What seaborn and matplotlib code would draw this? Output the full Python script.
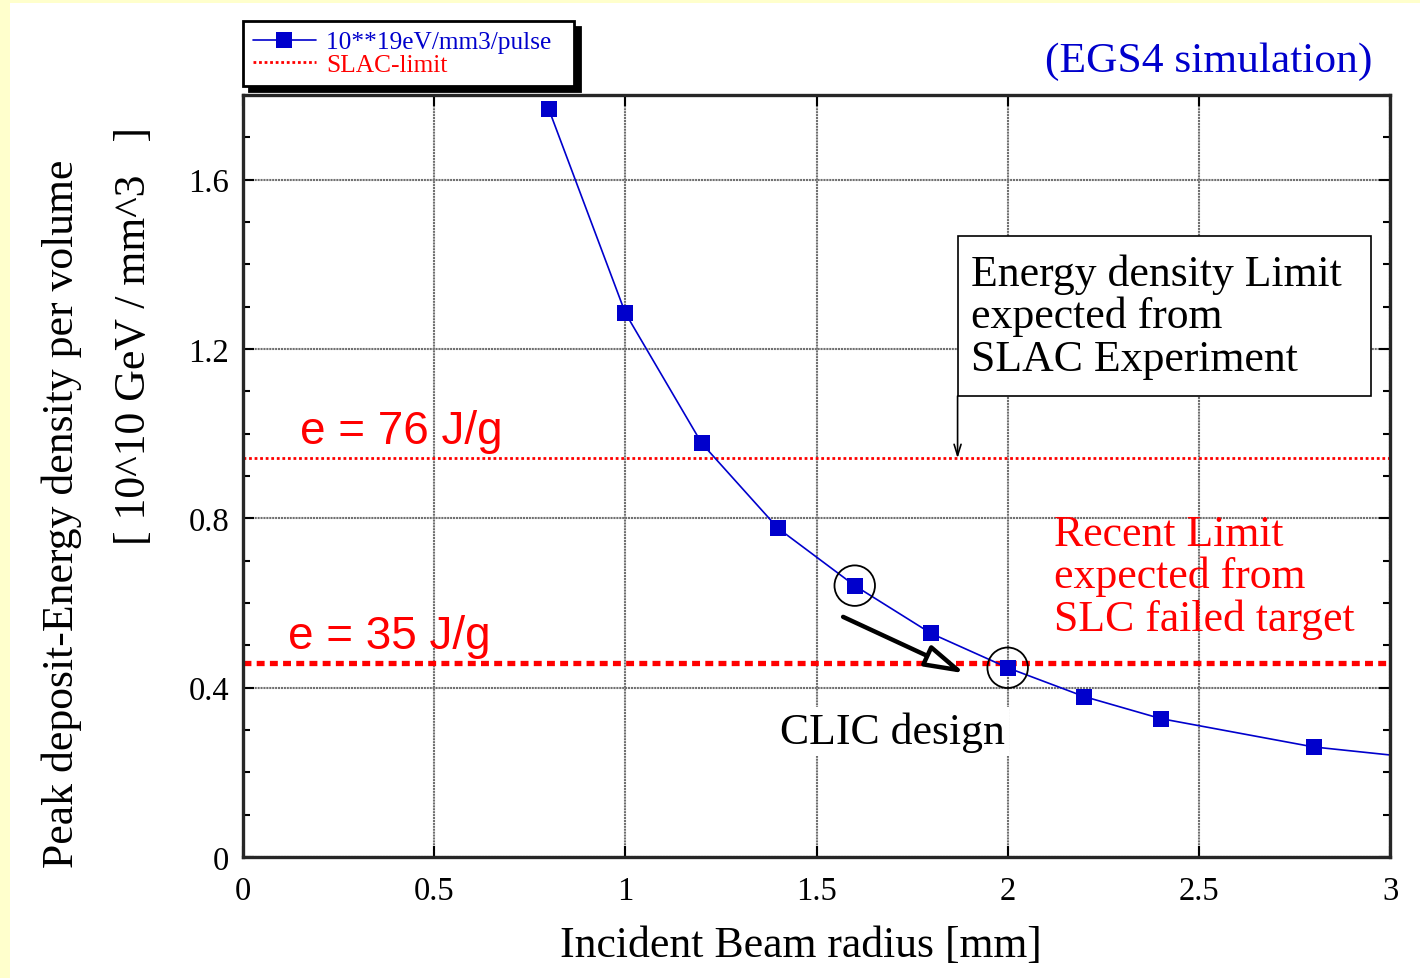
import numpy as np
import seaborn as sns
import matplotlib.pyplot as plt
from matplotlib.patches import Rectangle, FancyArrowPatch
from matplotlib.lines import Line2D

# data
radius = [0.8, 1.0, 1.2, 1.4, 1.6, 1.8, 2.0, 2.2, 2.4, 2.8, 3.0]
density = [1.766, 1.285, 0.977, 0.776, 0.641, 0.528, 0.447, 0.379, 0.327, 0.260, 0.241]
marked = list(range(10))          # last point has no marker (curve runs to the frame)
circled_x = [1.6, 2.0]
circled_y = [0.641, 0.447]
SLAC_LIMIT = 0.942                # e = 76 J/g
SLC_LIMIT = 0.459                 # e = 35 J/g
xticks = [0, 0.5, 1, 1.5, 2, 2.5, 3]
xtick_labels = ["0", "0.5", "1", "1.5", "2", "2.5", "3"]
yticks = [0, 0.4, 0.8, 1.2, 1.6]
ytick_labels = ["0", "0.4", "0.8", "1.2", "1.6"]

BLUE = "#0000cc"
RED = "#ff0000"

sns.set_style("ticks")
plt.rcParams['font.family'] = ['Liberation Serif', 'DejaVu Serif']
plt.rcParams.update({'text.color': 'black', 'axes.labelcolor': 'black',
                     'xtick.color': 'black', 'ytick.color': 'black'})

fig = plt.figure(figsize=(14.2, 9.79), dpi=100)
fig.patch.set_facecolor("#ffffcc")
fig.add_artist(Rectangle((10 / 1420, 0), 1, 1 - 4 / 979, transform=fig.transFigure,
                         facecolor="white", edgecolor="none", zorder=-10))

ax = fig.add_axes([243 / 1420, 1 - 858 / 979, (1390 - 243) / 1420, (858 - 96) / 979])
ax.set_facecolor("white")

sns.lineplot(x=radius, y=density, ax=ax, color=BLUE, lw=1.2, marker='s', markersize=11.5,
             markevery=marked, markeredgewidth=0, markerfacecolor=BLUE, zorder=5)
ax.scatter(circled_x, circled_y, s=850, facecolors='none', edgecolors='black', lw=1.3, zorder=6)

ax.axhline(SLAC_LIMIT, color=RED, lw=2.0, linestyle=(0, (1, 1)), zorder=3)
ax.axhline(SLC_LIMIT, color=RED, lw=3.8, linestyle=(0, (1.5, 1)), zorder=3)

ax.set_xlim(0, 3)
ax.set_ylim(0, 1.8)
ax.set_xticks(xticks)
ax.set_xticklabels(xtick_labels)
ax.set_yticks(yticks)
ax.set_yticklabels(ytick_labels)
ax.set_yticks(np.arange(0, 1.81, 0.1), minor=True)
ax.tick_params(which='both', direction='in', top=True, right=True, labelsize=23.5, width=1.5)
ax.tick_params(which='major', length=8, pad=10)
ax.tick_params(axis='x', which='major', pad=13)
ax.tick_params(which='minor', length=5)
ax.grid(True, which='major', color='#707070', lw=1.5, linestyle=(0, (1, 0.4)), zorder=0)
for s in ax.spines.values():
    s.set_linewidth(2.4)
    s.set_visible(True)
    s.set_zorder(10)

ax.set_xlabel("Incident Beam radius [mm]", fontsize=31.5, va='center')
ax.xaxis.set_label_coords(0.4865, -(946 - 858) / 762)
fig.text(62 / 1420, 1 - 514 / 979, "Peak deposit-Energy density per volume",
         rotation=90, ha='center', va='center', fontsize=31.5)
fig.text(134 / 1420, 1 - 336 / 979, "[ 10^10 GeV / mm^3   ]",
         rotation=90, ha='center', va='center', fontsize=31.5)

fig.text(1372 / 1420, 1 - 62 / 979, "(EGS4 simulation)", color=BLUE, fontsize=31.3,
         ha='right', va='center')

# labels on the limit lines
ax.text(0.149, 1.006, "e = 76 J/g", color=RED, fontsize=33, family='Liberation Sans',
        va='center', ha='left')
ax.text(0.118, 0.523, "e = 35 J/g", color=RED, fontsize=33, family='Liberation Sans',
        va='center', ha='left')

ax.text(2.12, 0.663, "Recent Limit\nexpected from\nSLC failed target", color=RED,
        fontsize=31.5, va='center', ha='left', linespacing=1.07)

ax.text(1.699, 0.296, "CLIC design", fontsize=31.5, ha='center', va='center', zorder=7,
        bbox=dict(boxstyle='square,pad=0.1', fc='white', ec='none'))

# SLAC box with arrow down to the limit line
ax.add_patch(Rectangle((1.869, 1.089), 2.950 - 1.869, 1.467 - 1.089, facecolor='white',
                       edgecolor='black', lw=1.2, zorder=7))
ax.text(1.905, 1.278, "Energy density Limit\nexpected from\nSLAC Experiment", fontsize=31.5,
        ha='left', va='center', linespacing=1.07, zorder=8)
ax.annotate("", xy=(1.869, SLAC_LIMIT), xytext=(1.869, 1.089),
            arrowprops=dict(arrowstyle='->,head_length=0.8,head_width=0.25', color='black', lw=1.2,
                            shrinkA=0, shrinkB=0), zorder=7)

arr = FancyArrowPatch((1.563, 0.570), (1.895, 0.431),
                      arrowstyle='-|>,head_length=1.6,head_width=0.45', mutation_scale=15,
                      lw=3.2, edgecolor='black', facecolor='white', zorder=7)
ax.add_patch(arr)

handles = [Line2D([], [], color=BLUE, lw=1.2, marker='s', markersize=11.5, markeredgewidth=0),
           Line2D([], [], color=RED, lw=2.0, linestyle=(0, (1, 1)))]
leg = fig.legend(handles, ["10**19eV/mm3/pulse  ", "SLAC-limit"],
                 loc='upper left', bbox_to_anchor=(243 / 1420, 1 - 22 / 979),
                 fontsize=18.3, frameon=True, fancybox=False,
                 shadow={'color': 'black', 'alpha': 1, 'ox': 4, 'oy': -4},
                 labelspacing=0.0, handlelength=2.5, handletextpad=0.4, borderpad=0.38,
                 borderaxespad=0, labelcolor=[BLUE, RED])
leg.get_frame().set_edgecolor('black')
leg.get_frame().set_linewidth(2.0)
leg.get_frame().set_alpha(1)

fig.savefig("out.png", dpi=100, facecolor=fig.get_facecolor())
